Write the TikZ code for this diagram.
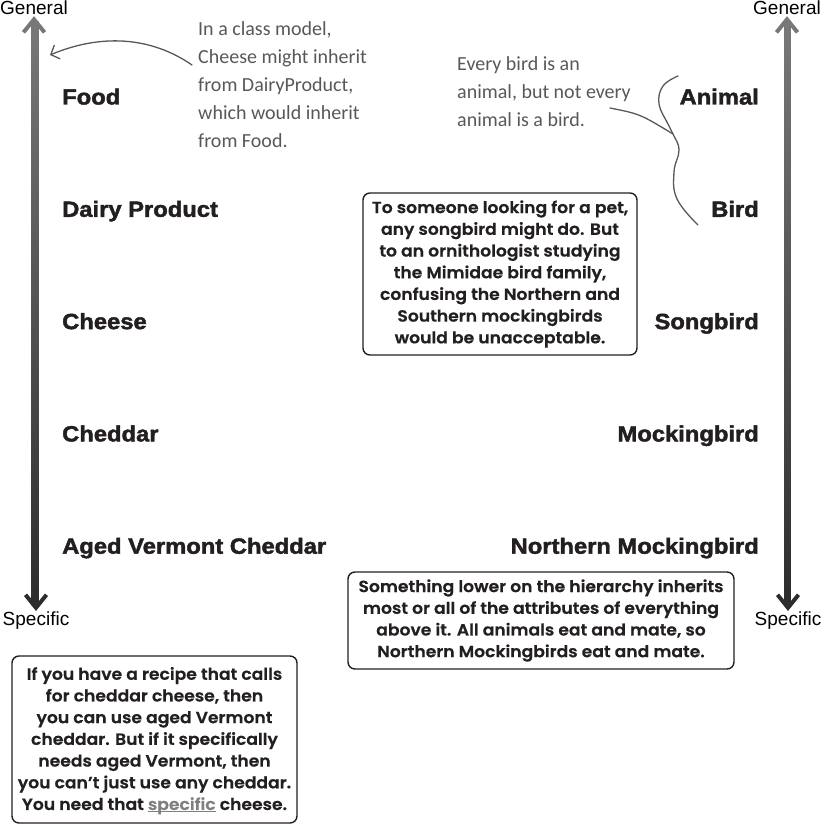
\documentclass[tikz,border=0pt]{standalone}
\usepackage{fontspec}
\usepackage{tikz}
\usetikzlibrary{arrows.meta,positioning}
\setmainfont{Liberation Sans}
\newfontfamily\labelfont{Liberation Sans}[UprightFont={* Bold},FakeBold=2,FakeStretch=1.08]
\newfontfamily\boxfont{Poppins}[UprightFont={* SemiBold},FakeBold=0.6,FakeStretch=1.06]
\newfontfamily\handfont{Carlito}
\definecolor{inkgray}{HTML}{585858}
\definecolor{axtop}{HTML}{787878}
\definecolor{axbot}{HTML}{2C2C2C}
\definecolor{boxline}{HTML}{231F20}
\newcommand{\grayul}[1]{\textcolor{gray}{\underline{\smash{#1}}}}

\begin{document}
\begin{tikzpicture}[x=1pt, y=-1pt,
  lbl/.style = {font=\labelfont\fontsize{22}{26}\selectfont, text=boxline, inner sep=0pt},
  axlbl/.style = {font=\fontsize{19}{22}\selectfont, inner sep=1pt},
  note/.style = {draw=boxline, line width=1.4pt, rounded corners=7pt, align=center, inner sep=0pt,
                 font=\boxfont\fontsize{16.2}{21.7}\selectfont, text=boxline},
  hand/.style = {font=\handfont\fontsize{20}{28}\selectfont, text=inkgray, align=left, inner sep=0pt},
  scribble/.style = {draw=inkgray, line width=1.3pt, line cap=round},
  axtip/.style = {line width=4pt}]
  \useasboundingbox (0,0) rectangle (824,824);

  % general to specific, left: food
  \node[axlbl] (genL) at (34,8) {General};
  \node[axlbl] (specL) at (36,621) {Specific};
  \shade[top color=axtop, bottom color=axbot] ([xshift=-2.5pt,yshift=-5pt]genL.south) rectangle ([xshift=2.5pt,yshift=5pt]specL.north);
  \draw[axtip, axtop, {Straight Barb[length=13pt,width=21pt]}-] (genL.south) -- ++(0,25);
  \draw[axtip, axbot, {Straight Barb[length=13pt,width=21pt]}-] (specL.north) -- ++(0,-25);

  \node[lbl, anchor=base west] (food) at (62,104.5) {Food};
  \node[lbl, below=112.3pt of food.base west, anchor=base west] (dairy) {Dairy Product};
  \node[lbl, below=112.3pt of dairy.base west, anchor=base west] (cheese) {Cheese};
  \node[lbl, below=112.3pt of cheese.base west, anchor=base west] (cheddar) {Cheddar};
  \node[lbl, below=112.3pt of cheddar.base west, anchor=base west] (vermont) {Aged Vermont Cheddar};

  % general to specific, right: animal
  \node[axlbl] (genR) at (787,8) {General};
  \node[axlbl] (specR) at (788,621) {Specific};
  \shade[top color=axtop, bottom color=axbot] ([xshift=-2.5pt,yshift=-5pt]genR.south) rectangle ([xshift=2.5pt,yshift=5pt]specR.north);
  \draw[axtip, axtop, {Straight Barb[length=13pt,width=21pt]}-] (genR.south) -- ++(0,25);
  \draw[axtip, axbot, {Straight Barb[length=13pt,width=21pt]}-] (specR.north) -- ++(0,-25);

  \node[lbl, anchor=base east] (animal) at (759,104.5) {Animal};
  \node[lbl, below=112.3pt of animal.base east, anchor=base east] (bird) {Bird};
  \node[lbl, below=112.3pt of bird.base east, anchor=base east] (songbird) {Songbird};
  \node[lbl, below=112.3pt of songbird.base east, anchor=base east] (mocking) {Mockingbird};
  \node[lbl, below=112.3pt of mocking.base east, anchor=base east] (northern) {Northern Mockingbird};

  % boxes
  \node[note, minimum width=274pt, minimum height=162pt] (petbox) at (500,274)
    {To someone looking for a pet,\\ any songbird might do. But\\ to an ornithologist studying\\
     the Mimidae bird family,\\ confusing the Northern and\\ Southern mockingbirds\\ would be unacceptable.};
  \node[note, minimum width=386pt, minimum height=97pt] (inhbox) at (541,620.5)
    {Something lower on the hierarchy inherits\\ most or all of the attributes of everything\\
     above it. All animals eat and mate, so\\ Northern Mockingbirds eat and mate.};
  \node[note, minimum width=285pt, minimum height=167pt] (recipebox) at (154.5,739.5)
    {If you have a recipe that calls\\ for cheddar cheese, then\\ you can use aged Vermont\\
     cheddar. But if it specifically\\ needs aged Vermont, then\\ you can’t just use any cheddar.\\
     You need that \grayul{specific} cheese.};

  % handwritten notes
  \node[hand, anchor=north west] (classnote) at (198,21)
    {In a class model,\\ Cheese might inherit\\ from DairyProduct,\\ which would inherit\\ from Food.};
  \coordinate (classstart) at (192,65);
  \coordinate (classtip) at (50,55);
  \draw[scribble, -{Straight Barb[length=7pt,width=15pt]}] (classstart) .. controls (150,36) and (100,34) .. (classtip);

  \node[hand, anchor=north west] (birdnote) at (457,56)
    {Every bird is an\\ animal, but not every\\ animal is a bird.};
  \coordinate (birdstart) at (610,108);
  \coordinate (bracemid) at (673,134);
  \draw[scribble] (birdstart) .. controls (640,114) .. (bracemid);
  \draw[scribble] plot[smooth, tension=0.7] coordinates {(678,76) (663,86) (659,104) (668,124) (673,134) (679,150) (674,172) (677,199) (698,225)};
\end{tikzpicture}
\end{document}
